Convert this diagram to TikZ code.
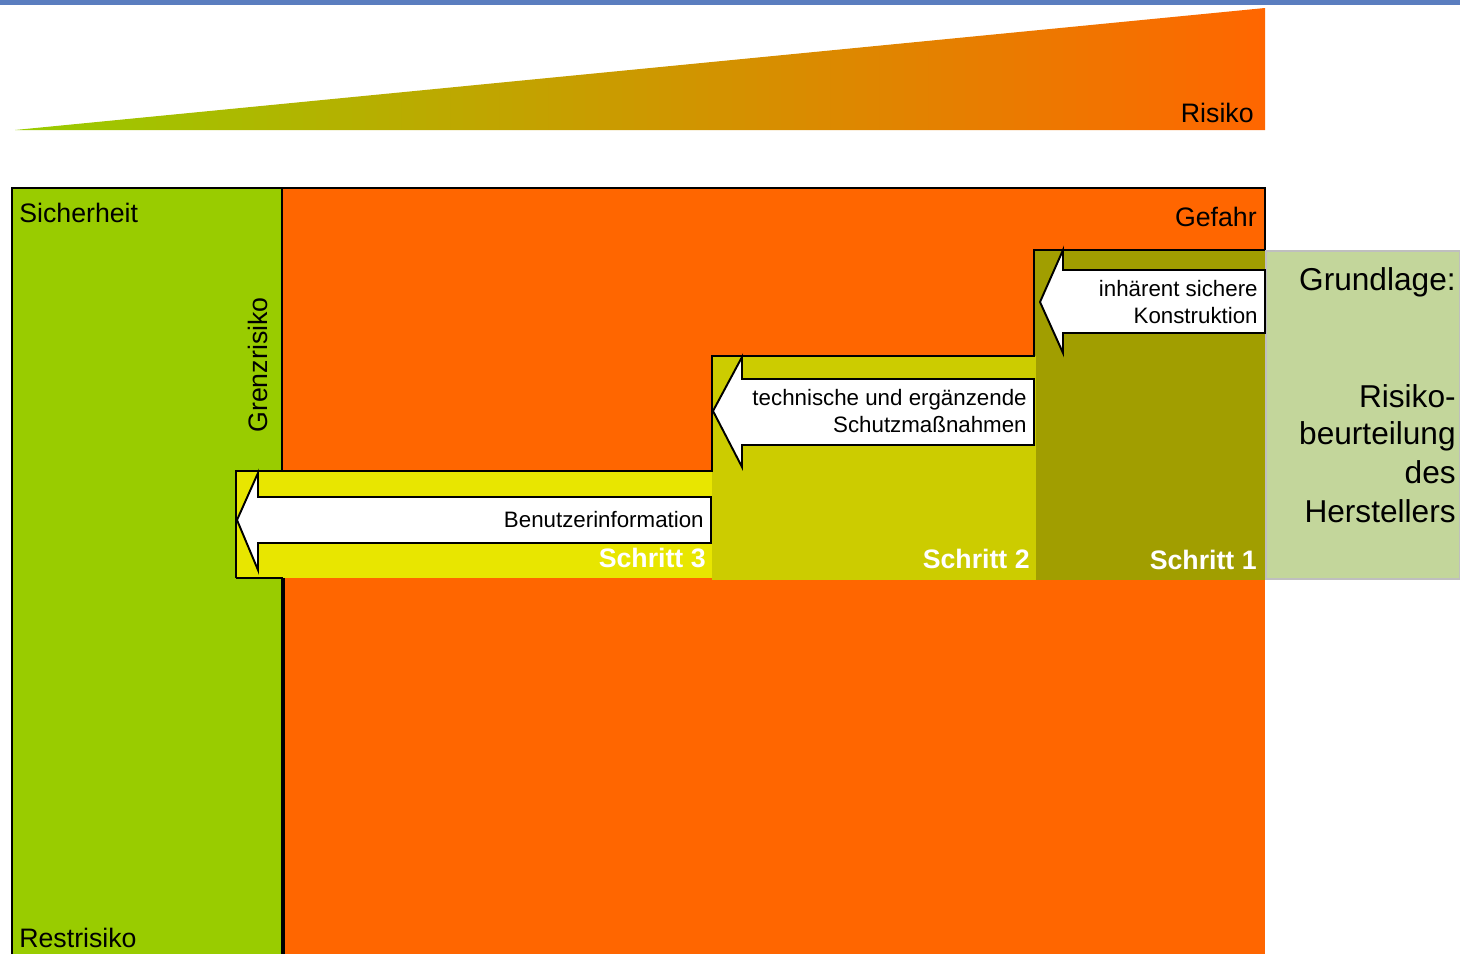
\documentclass[tikz,border=0pt]{standalone}
\usepackage{fontspec}
\setmainfont{Liberation Sans}
\usepackage{tikz}
\usepackage{xcolor}
\definecolor{sicher}{HTML}{99CC00}
\definecolor{gefahr}{HTML}{FF6600}
\definecolor{keil}{HTML}{D2A400}
\definecolor{schritteins}{HTML}{A19E00}
\definecolor{schrittzwei}{HTML}{CCCC00}
\definecolor{schrittdrei}{HTML}{E8E600}
\definecolor{grundlage}{HTML}{C3D69B}
\definecolor{balken}{HTML}{5A7DBF}
\usetikzlibrary{positioning}
\usetikzlibrary{calc}

\begin{document}
\begin{tikzpicture}[x=0.02cm,y=-0.02cm,
		label/.style={inner sep=0pt, font=\fontsize{15.2pt}{18pt}\selectfont},
		pfeiltext/.style={inner sep=0pt, anchor=base east, font=\fontsize{12.7pt}{15pt}\selectfont},
		schritt/.style={inner sep=0pt, anchor=base east, text=white, font=\fontsize{15.2pt}{18pt}\selectfont\bfseries},
		basis/.style={inner sep=0pt, anchor=base east, font=\fontsize{18pt}{22pt}\selectfont},
		pfeil/.style={draw=black, fill=white, line width=1.1pt, line join=miter}]
		\useasboundingbox (0,0) rectangle (1460,954);
		
		%top bar
		\fill[balken] (0,0) rectangle (1460,5);
		
		%risk wedge
		\shade[left color=sicher, middle color=keil, right color=gefahr] (15,130) -- (1265,8) -- (1265,130) -- cycle;
		\node[label, anchor=base east] (risiko) at (1254,122) {Risiko};
		
		%safety and hazard areas
		\fill[sicher] (11,188) rectangle (282,954);
		\fill[gefahr] (282,188) rectangle (1265,954);
		
		%steps
		\fill[schritteins] (1034,250) rectangle (1265,580);
		\fill[schrittzwei] (712,356) rectangle (1036,580);
		\fill[schrittdrei] (236,471) rectangle (712,578);
		
		%basis panel
		\filldraw[draw=black!25, fill=grundlage, line width=1pt] (1266,251) rectangle (1460,579);
		
		%outlines
		\draw[line width=1.1pt] (12,954) -- (12,188) -- (1265,188) -- (1265,250);
		\draw[line width=1.2pt] (282,188) -- (282,471);
		\draw[line width=1.2pt] (236,578) -- (236,471) -- (712,471) -- (712,356) -- (1034,356) -- (1034,250) -- (1265,250);
		\draw[line width=1.2pt] (236,578) -- (283,578);
		\draw[line width=2.2pt] (283,578) -- (283,954);
		
		%arrows
		\draw[pfeil] (1265,270) -- (1063,270) -- (1063,250) -- (1040,302) -- (1063,353) -- (1063,333) -- (1265,333) -- cycle;
		\draw[pfeil] (1034,379) -- (742,379) -- (742,357) -- (713,411) -- (742,467) -- (742,445) -- (1034,445) -- cycle;
		\draw[pfeil] (711,497) -- (258,497) -- (258,473) -- (237,520) -- (258,570) -- (258,543) -- (711,543) -- cycle;
		
		%arrow texts
		\node[pfeiltext] (konst1) at (1258,296) {inhärent sichere};
		\node[pfeiltext] (konst2) at (1258,323) {Konstruktion};
		\node[pfeiltext] (schutz1) at (1027,405) {technische und ergänzende};
		\node[pfeiltext] (schutz2) at (1027,432) {Schutzmaßnahmen};
		\node[pfeiltext] (info) at (704,527) {Benutzerinformation};
		
		%step names
		\node[schritt] (s3) at (706,567) {Schritt 3};
		\node[schritt] (s2) at (1030,568) {Schritt 2};
		\node[schritt] (s1) at (1257,569) {Schritt 1};
		
		%area names
		\node[label, anchor=base west] (sicherheit) at (19,222) {Sicherheit};
		\node[label, anchor=base east] (gefahr) at (1257,226) {Gefahr};
		\node[label, anchor=base west] (rest) at (19,947) {Restrisiko};
		\node[label, rotate=90] (grenz) at (258,365) {Grenzrisiko};
		
		%basis text
		\node[basis] (grund) at (1456,290) {Grundlage:};
		\foreach \t/\y in {Risiko-/407,beurteilung/444,des/483,Herstellers/522}
		\node[basis] (b\y) at (1456,\y) {\t};
\end{tikzpicture}
\end{document}
